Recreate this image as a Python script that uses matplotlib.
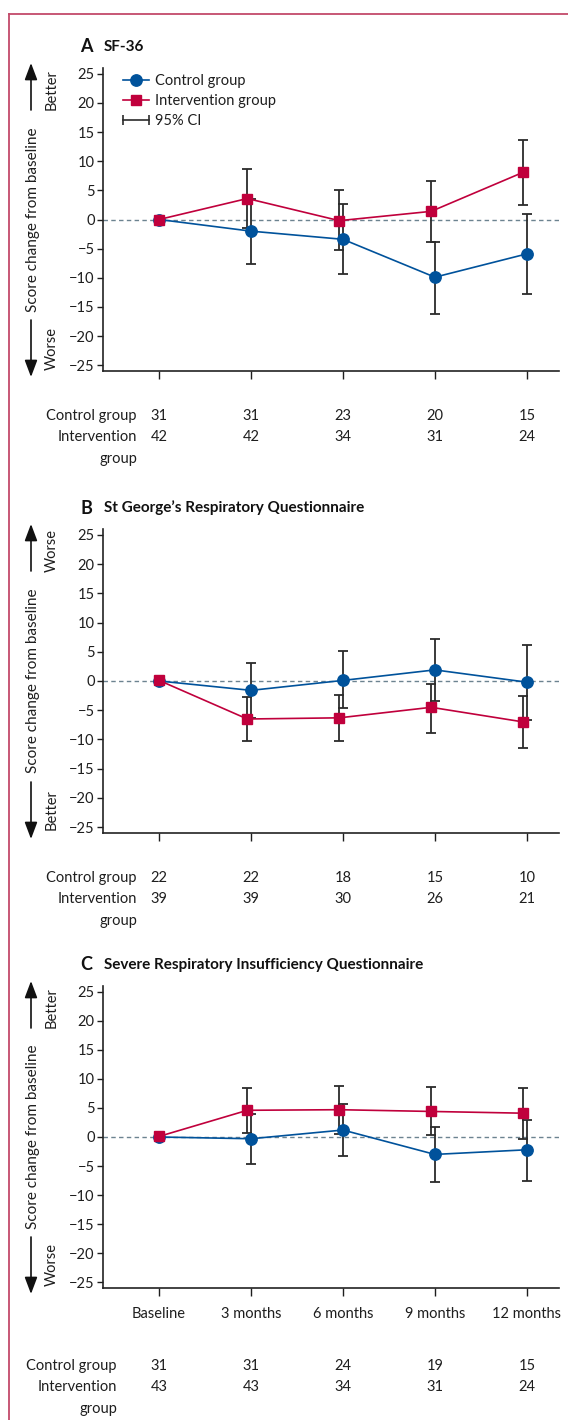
"""Score change from baseline for three questionnaires, control vs intervention."""

import numpy as np
import matplotlib
matplotlib.use("Agg")
import matplotlib.pyplot as plt
from matplotlib.lines import Line2D
from matplotlib.patches import FancyArrowPatch
from matplotlib.legend_handler import HandlerLine2D

plt.rcParams["font.family"] = ["Lato", "DejaVu Sans"]

# time points
timepoints = ["Baseline", "3 months", "6 months", "9 months", "12 months"]

# A  SF-36
sf36_control = [0.0, -2.0, -3.4, -9.9, -5.9]
sf36_control_lo = [0.0, -7.6, -9.4, -16.2, -12.7]
sf36_control_hi = [0.0, 3.5, 2.6, -3.8, 0.9]
sf36_interv = [0.0, 3.6, -0.2, 1.4, 8.1]
sf36_interv_lo = [0.0, -1.4, -5.3, -3.8, 2.5]
sf36_interv_hi = [0.0, 8.6, 5.0, 6.6, 13.6]
sf36_n_control = [31, 31, 23, 20, 15]
sf36_n_interv = [42, 42, 34, 31, 24]

# B  St George's Respiratory Questionnaire
sgrq_control = [0.0, -1.6, 0.1, 1.9, -0.2]
sgrq_control_lo = [0.0, -6.4, -4.7, -3.4, -6.6]
sgrq_control_hi = [0.0, 3.1, 5.1, 7.2, 6.1]
sgrq_interv = [0.1, -6.5, -6.3, -4.5, -7.0]
sgrq_interv_lo = [0.1, -10.3, -10.3, -8.9, -11.5]
sgrq_interv_hi = [0.1, -2.7, -2.4, -0.5, -2.6]
sgrq_n_control = [22, 22, 18, 15, 10]
sgrq_n_interv = [39, 39, 30, 26, 21]

# C  Severe Respiratory Insufficiency Questionnaire
sri_control = [0.0, -0.3, 1.2, -3.0, -2.2]
sri_control_lo = [0.0, -4.7, -3.3, -7.8, -7.5]
sri_control_hi = [0.0, 3.9, 5.7, 1.8, 3.0]
sri_interv = [0.1, 4.6, 4.7, 4.4, 4.1]
sri_interv_lo = [0.1, 0.7, 0.6, 0.4, -0.3]
sri_interv_hi = [0.1, 8.5, 8.8, 8.6, 8.4]
sri_n_control = [31, 31, 24, 19, 15]
sri_n_interv = [43, 43, 34, 31, 24]

BLUE = "#00529b"
RED = "#c0003c"
BAR = "#2b2b2b"
TEXT = "#1e1e1e"
PINK = "#c34a6a"

W, H = 568, 1420
fig = plt.figure(figsize=(W / 100, H / 100), dpi=100, facecolor="white")


def px_rect(left, top, right, bottom):
    return [left / W, 1 - bottom / H, (right - left) / W, (bottom - top) / H]


def fy(y):
    return 1 - y / H


def fx(x):
    return x / W


def add_arrow(y_from, y_to):
    fig.add_artist(FancyArrowPatch(
        (fx(31), fy(y_from)), (fx(31), fy(y_to)), transform=fig.transFigure,
        arrowstyle="-|>,head_length=0.85,head_width=0.32", mutation_scale=12,
        color="#111111", lw=1.2, shrinkA=0, shrinkB=0))


def draw_panel(top, bottom, letter, title, ctrl, ctrl_lo, ctrl_hi,
               intv, intv_lo, intv_hi, n_ctrl, n_intv, up_word, down_word,
               show_xlabels=False, legend=False, table_right=137, table_gap=45):
    ax = fig.add_axes(px_rect(103, top, 559, bottom))
    x = np.arange(len(timepoints))
    # intervention points sit a touch left of the control points
    xi = x - np.where(x > 0, 0.04, 0.0)

    ctrl = np.array(ctrl)
    intv = np.array(intv)
    c_err = [ctrl - np.array(ctrl_lo), np.array(ctrl_hi) - ctrl]
    i_err = [intv - np.array(intv_lo), np.array(intv_hi) - intv]

    ax.axhline(0, color="#6c8390", lw=1.0, ls=(0, (3.2, 2.4)), zorder=1)
    ax.errorbar(x[1:], ctrl[1:], yerr=[c_err[0][1:], c_err[1][1:]], fmt="none",
                ecolor=BAR, elinewidth=1.3, capsize=3.6, capthick=1.3, zorder=2)
    ax.errorbar(xi[1:], intv[1:], yerr=[i_err[0][1:], i_err[1][1:]], fmt="none",
                ecolor=BAR, elinewidth=1.3, capsize=3.6, capthick=1.3, zorder=2)
    ax.plot(x, ctrl, color=BLUE, lw=1.2, marker="o", ms=8.2, mec=BLUE, mfc=BLUE,
            zorder=3)
    ax.plot(xi, intv, color=RED, lw=1.2, marker="s", ms=7.0, mec=RED, mfc=RED,
            zorder=4)

    ax.set_xlim(-0.61, 4.35)
    ax.set_ylim(-26, 26)
    ax.set_yticks(np.arange(-25, 26, 5))
    ax.set_xticks(x)
    if show_xlabels:
        ax.set_xticklabels(timepoints)
    else:
        ax.set_xticklabels([])
    for s in ["top", "right"]:
        ax.spines[s].set_visible(False)
    for s in ["left", "bottom"]:
        ax.spines[s].set_linewidth(1.2)
        ax.spines[s].set_color("#222222")
    ax.tick_params(axis="y", length=4.5, width=1.0, labelsize=10.5, pad=1.5,
                   colors=TEXT)
    ax.tick_params(axis="x", length=5.5, width=1.0, labelsize=10.5, pad=8,
                   colors=TEXT)

    # panel heading
    fig.text(fx(80), fy(top - 21), letter, fontsize=13, fontweight="bold",
             va="center", ha="left", color="#111111")
    fig.text(fx(104), fy(top - 21), title, fontsize=11, fontweight="bold",
             va="center", ha="left", color="#111111")

    # y axis label with direction arrows
    fig.text(fx(33), fy((top + bottom) / 2), "Score change from baseline",
             rotation=90, fontsize=11, va="center", ha="center", color=TEXT)
    add_arrow(top + 42, top - 5)
    add_arrow(bottom - 51, bottom + 6)
    fig.text(fx(52), fy(top + 22), up_word, rotation=90, fontsize=10.5,
             va="center", ha="center", color=TEXT)
    fig.text(fx(52), fy(bottom - 23), down_word, rotation=90, fontsize=10.5,
             va="center", ha="center", color=TEXT)

    # numbers at risk
    row1 = fy(bottom + table_gap)
    row2 = fy(bottom + table_gap + 21)
    row3 = fy(bottom + table_gap + 43)
    for row, label in [(row1, "Control group"), (row2, "Intervention"),
                       (row3, "group")]:
        fig.text(fx(table_right), row, label, fontsize=10.5, ha="right",
                 va="center", color=TEXT)
    for xv, a, b in zip(x, n_ctrl, n_intv):
        xf = ax.transData.transform((xv, 0))[0] / W
        fig.text(xf, row1, str(a), fontsize=10.5, ha="center", va="center",
                 color=TEXT)
        fig.text(xf, row2, str(b), fontsize=10.5, ha="center", va="center",
                 color=TEXT)

    if legend:
        h_ctrl = Line2D([], [], color=BLUE, lw=1.2, marker="o", ms=8.2)
        h_intv = Line2D([], [], color=RED, lw=1.2, marker="s", ms=7.0)
        h_ci = Line2D([], [], color=BAR, lw=1.2, marker="|", ms=7, mew=1.2)
        leg = ax.legend([h_ctrl, h_intv, h_ci],
                        ["Control group", "Intervention group", "95% CI"],
                        handler_map={h_ci: HandlerLine2D(numpoints=2,
                                                         marker_pad=0)},
                        loc="upper left", bbox_to_anchor=(0.03, 1.0),
                        frameon=False, fontsize=10.5, handlelength=1.8,
                        handletextpad=0.45, labelspacing=0.42,
                        borderaxespad=0)
        for t in leg.get_texts():
            t.set_color(TEXT)
    return ax


draw_panel(68, 371, "A", "SF-36", sf36_control, sf36_control_lo,
           sf36_control_hi, sf36_interv, sf36_interv_lo, sf36_interv_hi,
           sf36_n_control, sf36_n_interv, "Better", "Worse", legend=True)
draw_panel(529, 833, "B", "St George\u2019s Respiratory Questionnaire",
           sgrq_control, sgrq_control_lo, sgrq_control_hi, sgrq_interv,
           sgrq_interv_lo, sgrq_interv_hi, sgrq_n_control, sgrq_n_interv,
           "Worse", "Better")
draw_panel(986, 1288, "C", "Severe Respiratory Insufficiency Questionnaire",
           sri_control, sri_control_lo, sri_control_hi, sri_interv,
           sri_interv_lo, sri_interv_hi, sri_n_control, sri_n_interv,
           "Better", "Worse", show_xlabels=True, table_right=117, table_gap=78)

# page frame on the left and top
fig.add_artist(Line2D([fx(9), fx(9)], [fy(14), 0], color=PINK, lw=1.3,
                      transform=fig.transFigure))
fig.add_artist(Line2D([fx(9), 1], [fy(14), fy(14)], color=PINK, lw=1.3,
                      transform=fig.transFigure))

fig.savefig("out.png", dpi=100, facecolor="white")
